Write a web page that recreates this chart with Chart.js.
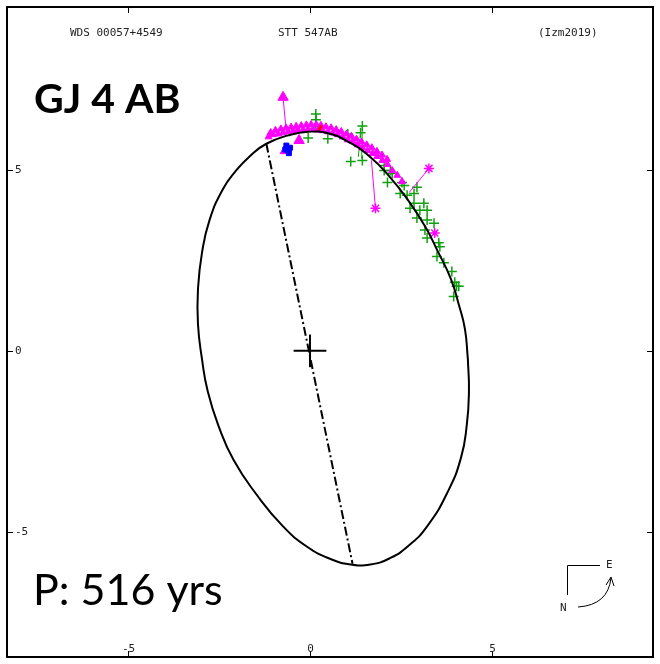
<!DOCTYPE html>
<html>
<head>
<meta charset="utf-8">
<script src="https://cdn.jsdelivr.net/npm/chart.js@4.4.1/dist/chart.umd.min.js"></script>
<style>
  body { margin: 0; background: #fff; }
  #wrap { width: 660px; height: 664px; }
</style>
</head>
<body>
<div id="wrap"><canvas id="myChart" width="660" height="664"></canvas></div>
<script>
// orbit outline (arcsec), starting at the east-most point
const orbitX = [4.34, 4.37, 4.31, 4.15, 3.79, 3.22, 2.70, 2.21, 1.66, 1.12, 0.57, -0.08, -0.74, -1.47, -2.10, -2.51, -2.81, -2.97, -3.08, -3.08, -2.97, -2.76, -2.40, -2.05, -1.64, -1.20, -0.60, -0.05, 0.49, 1.04, 1.64, 2.18, 2.70, 3.17, 3.52, 3.87, 4.09, 4.26, 4.34]
const orbitY = [-0.22, -1.12, -2.05, -2.95, -3.88, -4.84, -5.38, -5.71, -5.89, -5.89, -5.74, -5.40, -4.84, -3.96, -3.01, -2.08, -1.12, -0.22, 0.74, 1.69, 2.70, 3.61, 4.45, 4.95, 5.38, 5.71, 5.94, 6.04, 6.00, 5.77, 5.36, 4.81, 4.15, 3.42, 2.73, 1.99, 1.28, 0.60, -0.22]

// line of nodes
const nodeX = [-1.20, 1.17]
const nodeY = [5.71, -5.87]

// visual (micrometer) measures
const plusX = [0.16, 0.16, -0.05, 0.49, 1.04, 1.44, 1.39, 1.12, 1.44, 2.04, 2.04, 2.21, 2.26, 2.13, 2.53, 2.59, 2.48, 2.86, 2.94, 2.67, 2.86, 2.75, 3.13, 3.02, 3.22, 2.94, 3.22, 3.41, 3.16, 3.22, 3.54, 3.57, 3.49, 3.68, 3.90, 3.98, 4.09, 4.03, 3.95]
const plusY = [6.53, 6.37, 5.87, 5.85, 5.98, 6.20, 6.01, 5.22, 5.25, 5.11, 4.97, 4.97, 4.89, 4.64, 4.64, 4.56, 4.34, 4.34, 4.51, 4.29, 4.07, 3.93, 4.07, 3.88, 3.88, 3.66, 3.61, 3.52, 3.33, 3.11, 2.98, 2.87, 2.60, 2.43, 2.19, 1.89, 1.78, 1.78, 1.50]

// speckle / interferometric measures
const speckX = [-1.14, -1.01, -0.87, -0.74, -0.60, -0.46, -0.33, -0.19, -0.05, 0.08, 0.22, 0.35, 0.49, 0.63, 0.76, 0.90, 1.04, 1.17, 1.31, 1.44, 1.58, 1.72, 1.85, 1.99, 2.13, 2.26, 2.40, 2.53,
    -1.08, -0.95, -0.80, -0.66, -0.52, -0.38, -0.24, -0.10, 0.03, 0.17, 0.30, 0.44, 0.58, 0.72, 0.86, 1.00, 1.14, 1.28, 1.42, 1.56, 1.70, 1.84, 1.98, 2.12]
const speckY = [5.90, 5.96, 5.98, 6.01, 6.04, 6.07, 6.09, 6.09, 6.12, 6.12, 6.09, 6.07, 6.04, 6.01, 5.96, 5.90, 5.82, 5.77, 5.68, 5.60, 5.52, 5.44, 5.36, 5.25, 5.14, 4.97, 4.84, 4.67,
    6.02, 6.08, 6.12, 6.15, 6.17, 6.19, 6.21, 6.23, 6.24, 6.24, 6.22, 6.18, 6.15, 6.10, 6.05, 5.98, 5.92, 5.84, 5.76, 5.68, 5.60, 5.50, 5.40, 5.28]

const triX = [-0.74, -0.68, -0.30]
const triY = [6.99, 5.52, 5.80]

const starX = [1.80, 3.27, 3.43]
const starY = [3.93, 5.03, 3.25]

const blueX = [-0.65, -0.60, -0.55, -0.68, -0.58]
const blueY = [5.66, 5.52, 5.60, 5.55, 5.45]

const redX = [0.27, 0.30]
const redY = [6.12, 6.18]

// O-C residual lines: [x1, y1, x2, y2]
const residMagenta = [[-0.74, 6.99, -0.65, 6.02], [1.80, 3.93, 1.69, 5.25], [3.27, 5.03, 2.73, 4.37]]
const residGreen = [[0.16, 6.53, 0.16, 6.10], [1.39, 6.01, 1.33, 5.35], [1.44, 6.20, 1.42, 5.30]]

const tickVals = [-5, 0, 5]
const tickLabels = ['-5', '0', '5']

const pts = (xs, ys) => xs.map((x, i) => ({ x: x, y: ys[i] }))
const green = '#10a010'
const magenta = '#ff00ff'

const datasets = [
    { data: pts(orbitX, orbitY), showLine: true, borderColor: '#000', borderWidth: 2, tension: 0.5, pointRadius: 0, order: 0 },
    { data: pts(nodeX, nodeY), showLine: true, borderColor: '#000', borderWidth: 2, borderDash: [9, 3, 2, 3], pointRadius: 0, order: 0 },
    { data: [{ x: -0.45, y: 0 }, { x: 0.45, y: 0 }], showLine: true, borderColor: '#000', borderWidth: 2, pointRadius: 0, order: 0 },
    { data: [{ x: 0, y: -0.45 }, { x: 0, y: 0.45 }], showLine: true, borderColor: '#000', borderWidth: 2, pointRadius: 0, order: 0 },
    { data: pts(plusX, plusY), pointStyle: 'cross', pointRadius: 5, borderColor: green, borderWidth: 1.5, order: 3 },
    { data: pts(speckX, speckY), pointStyle: 'triangle', pointRadius: 4, backgroundColor: magenta, borderColor: magenta, borderWidth: 1, order: 2 },
    { data: pts(triX, triY), pointStyle: 'triangle', pointRadius: 6, backgroundColor: magenta, borderColor: magenta, borderWidth: 1, order: 2 },
    { data: pts(starX, starY), pointStyle: 'star', pointRadius: 5, borderColor: magenta, borderWidth: 1.5, order: 2 },
    { data: pts(blueX, blueY), pointStyle: 'rect', pointRadius: 3.5, backgroundColor: '#0000ff', borderColor: '#0000ff', borderWidth: 1, order: 1 },
    { data: pts(redX, redY), pointStyle: 'rect', pointRadius: 1.5, backgroundColor: '#ff0000', borderColor: '#ff0000', borderWidth: 1, order: 1 }
]
residMagenta.forEach(r => datasets.push({ data: [{ x: r[0], y: r[1] }, { x: r[2], y: r[3] }], showLine: true, borderColor: magenta, borderWidth: 1, pointRadius: 0, order: 2 }))
residGreen.forEach(r => datasets.push({ data: [{ x: r[0], y: r[1] }, { x: r[2], y: r[3] }], showLine: true, borderColor: green, borderWidth: 1, pointRadius: 0, order: 3 }))

// frame, ticks, header texts, compass
const decor = {
    id: 'decor',
    afterDraw(chart) {
        const c = chart.ctx
        const a = chart.chartArea
        const sx = chart.scales.x, sy = chart.scales.y
        c.save()
        c.strokeStyle = '#000'
        c.lineWidth = 2
        c.strokeRect(a.left, a.top, a.right - a.left, a.bottom - a.top)
        c.lineWidth = 1
        c.fillStyle = '#222'
        c.font = '11px "DejaVu Sans Mono"'
        tickVals.forEach((v, i) => {
            const px = Math.round(sx.getPixelForValue(v)) + 0.5
            const py = Math.round(sy.getPixelForValue(v)) + 0.5
            c.beginPath()
            c.moveTo(px, a.top); c.lineTo(px, a.top + 6)
            c.moveTo(px, a.bottom); c.lineTo(px, a.bottom - 6)
            c.moveTo(a.left, py); c.lineTo(a.left + 6, py)
            c.moveTo(a.right, py); c.lineTo(a.right - 6, py)
            c.stroke()
            c.textAlign = 'center'; c.textBaseline = 'alphabetic'
            c.fillText(tickLabels[i], px, 652)
            c.textAlign = 'left'; c.textBaseline = 'middle'
            c.fillText(tickLabels[i], 15, py)
        })
        c.textAlign = 'left'; c.textBaseline = 'alphabetic'
        c.fillText('WDS 00057+4549', 70, 36)
        c.fillText('STT 547AB', 278, 36)
        c.fillText('(Izm2019)', 538, 36)
        c.fillText('E', 606, 568)
        c.fillText('N', 560, 611)

        // compass
        c.beginPath()
        c.moveTo(600, 565.5); c.lineTo(567.5, 565.5); c.lineTo(567.5, 595)
        c.stroke()
        c.beginPath()
        c.moveTo(578, 607)
        c.quadraticCurveTo(608, 605, 611, 578)
        c.stroke()
        c.beginPath()
        c.moveTo(606, 585); c.lineTo(611, 577); c.lineTo(614, 586)
        c.stroke()

        c.fillStyle = '#000'
        c.font = 'bold 41px Lato'
        c.fillText('GJ 4 AB', 34, 113)
        c.font = '43px Lato'
        c.fillText('P: 516 yrs', 33, 605)
        c.restore()
    }
}

const ctx = document.getElementById('myChart')

new Chart(ctx, {
    type: 'scatter',
    data: { datasets: datasets },
    options: {
        responsive: false,
        animation: false,
        layout: { padding: { left: 7, top: 5, right: 3, bottom: 3 } },
        plugins: { legend: { display: false }, tooltip: { enabled: false } },
        scales: {
            x: { display: false, min: -8.33, max: 9.43 },
            y: { display: false, min: -8.44, max: 9.48 }
        }
    },
    plugins: [decor]
})
</script>
</body>
</html>
